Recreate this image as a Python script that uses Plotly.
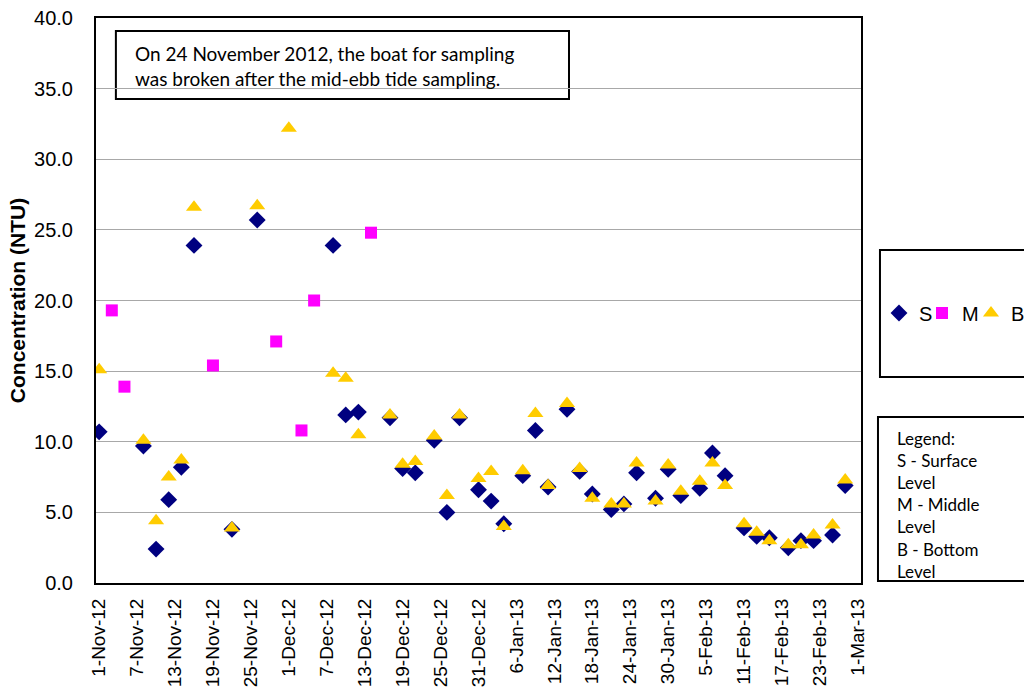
import plotly.graph_objects as go

# Surface level
s_dates = ["2012-11-01", "2012-11-08", "2012-11-10", "2012-11-12", "2012-11-14", "2012-11-16",
           "2012-11-22", "2012-11-26", "2012-12-08", "2012-12-10", "2012-12-12", "2012-12-17",
           "2012-12-19", "2012-12-21", "2012-12-24", "2012-12-26", "2012-12-28", "2012-12-31",
           "2013-01-02", "2013-01-04", "2013-01-07", "2013-01-09", "2013-01-11", "2013-01-14",
           "2013-01-16", "2013-01-18", "2013-01-21", "2013-01-23", "2013-01-25", "2013-01-28",
           "2013-01-30", "2013-02-01", "2013-02-04", "2013-02-06", "2013-02-08", "2013-02-11",
           "2013-02-13", "2013-02-15", "2013-02-18", "2013-02-20", "2013-02-22", "2013-02-25",
           "2013-02-27"]
s_vals = [10.7, 9.7, 2.4, 5.9, 8.2, 23.9,
          3.8, 25.7, 23.9, 11.9, 12.1, 11.7,
          8.1, 7.8, 10.1, 5.0, 11.7, 6.6,
          5.8, 4.2, 7.6, 10.8, 6.8, 12.3,
          7.9, 6.3, 5.2, 5.6, 7.8, 6.0,
          8.05, 6.2, 6.7, 9.2, 7.6, 3.9,
          3.3, 3.2, 2.5, 3.0, 3.0, 3.4,
          6.9]

# Middle level
m_dates = ["2012-11-03", "2012-11-05", "2012-11-19", "2012-11-29", "2012-12-03", "2012-12-05",
           "2012-12-14"]
m_vals = [19.3, 13.9, 15.4, 17.1, 10.8, 20.0, 24.8]

# Bottom level
b_dates = ["2012-11-01", "2012-11-08", "2012-11-10", "2012-11-12", "2012-11-14", "2012-11-16",
           "2012-11-22", "2012-11-26", "2012-12-01", "2012-12-08", "2012-12-10", "2012-12-12",
           "2012-12-17", "2012-12-19", "2012-12-21", "2012-12-24", "2012-12-26", "2012-12-28",
           "2012-12-31", "2013-01-02", "2013-01-04", "2013-01-07", "2013-01-09", "2013-01-11",
           "2013-01-14", "2013-01-16", "2013-01-18", "2013-01-21", "2013-01-23", "2013-01-25",
           "2013-01-28", "2013-01-30", "2013-02-01", "2013-02-04", "2013-02-06", "2013-02-08",
           "2013-02-11", "2013-02-13", "2013-02-15", "2013-02-18", "2013-02-20", "2013-02-22",
           "2013-02-25", "2013-02-27"]
b_vals = [15.1, 10.1, 4.4, 7.5, 8.7, 26.6,
          3.9, 26.7, 32.2, 14.85, 14.5, 10.5,
          11.9, 8.4, 8.6, 10.4, 6.2, 11.9,
          7.4, 7.9, 4.0, 7.95, 12.0, 6.9,
          12.7, 8.1, 6.0, 5.6, 5.6, 8.5,
          5.8, 8.35, 6.5, 7.2, 8.5, 6.9,
          4.2, 3.6, 3.0, 2.7, 2.7, 3.4,
          4.1, 7.3]

tick_dates = ["2012-11-01", "2012-11-07", "2012-11-13", "2012-11-19", "2012-11-25", "2012-12-01",
              "2012-12-07", "2012-12-13", "2012-12-19", "2012-12-25", "2012-12-31", "2013-01-06",
              "2013-01-12", "2013-01-18", "2013-01-24", "2013-01-30", "2013-02-05", "2013-02-11",
              "2013-02-17", "2013-02-23", "2013-03-01"]
tick_labels = ["1-Nov-12", "7-Nov-12", "13-Nov-12", "19-Nov-12", "25-Nov-12", "1-Dec-12",
               "7-Dec-12", "13-Dec-12", "19-Dec-12", "25-Dec-12", "31-Dec-12", "6-Jan-13",
               "12-Jan-13", "18-Jan-13", "24-Jan-13", "30-Jan-13", "5-Feb-13", "11-Feb-13",
               "17-Feb-13", "23-Feb-13", "1-Mar-13"]

ARIAL = "Arial, Liberation Sans, sans-serif"
CALIBRI = "Lato, Carlito, Calibri, sans-serif"

fig = go.Figure()
fig.add_trace(go.Scatter(x=s_dates, y=s_vals, mode="markers", name="S", legend="legend",
                         marker=dict(symbol="diamond", size=13, color="#000080")))
fig.add_trace(go.Scatter(x=m_dates, y=m_vals, mode="markers", name="M", legend="legend2",
                         marker=dict(symbol="square", size=12, color="#FF00FF")))
fig.add_trace(go.Scatter(x=b_dates, y=b_vals, mode="markers", name="B", legend="legend3",
                         marker=dict(symbol="triangle-up", size=14, color="#FFCC00")))

fig.update_xaxes(
    range=["2012-10-31 12:00", "2013-03-01 12:00"],
    tickvals=tick_dates, ticktext=tick_labels, tickangle=-90,
    tickfont=dict(family=ARIAL, size=19, color="black"),
    showgrid=False, showline=True, mirror=True, linecolor="black", linewidth=2,
    ticks="", ticklabelstandoff=6,
)
fig.update_yaxes(
    range=[0, 40], dtick=5, tickformat=".1f",
    tickfont=dict(family=ARIAL, size=20, color="black"),
    showgrid=True, gridcolor="#A8A8A8", gridwidth=1,
    showline=True, mirror=True, linecolor="black", linewidth=2,
    ticks="", ticklabelstandoff=17,
    title=dict(text="<b>Concentration (NTU)</b>", font=dict(family=ARIAL, size=21, color="black"),
               standoff=3),
    zeroline=False,
)

# note box
fig.add_shape(type="rect", xref="paper", yref="paper", x0=0.026, x1=0.6183, y0=0.8566, y1=0.977,
              line=dict(color="black", width=2), fillcolor="white", layer="below")
fig.add_annotation(xref="paper", yref="paper", x=0.0484, y=0.915, xanchor="left", yanchor="middle",
                   align="left", showarrow=False,
                   text="On 24 November 2012, the boat for sampling<br>was broken after the mid-ebb tide sampling.",
                   font=dict(family=CALIBRI, size=19, color="black"))

# legend box
fig.add_shape(type="rect", xref="paper", yref="paper", x0=1.0248, x1=1.26, y0=0.3646, y1=0.5894,
              line=dict(color="black", width=2), fillcolor="white")
# key box
fig.add_shape(type="rect", xref="paper", yref="paper", x0=1.0222, x1=1.26, y0=0.0035, y1=0.2938,
              line=dict(color="black", width=2), fillcolor="white")
fig.add_annotation(xref="paper", yref="paper", x=1.0444, y=0.1375, xanchor="left", yanchor="middle",
                   align="left", showarrow=False,
                   text="Legend:<br>S - Surface<br>Level<br>M - Middle<br>Level<br>B - Bottom<br>Level",
                   font=dict(family=CALIBRI, size=17, color="black"))

legend_style = dict(y=(583 - 313) / 565, xanchor="left", yanchor="middle",
                    font=dict(family=ARIAL, size=20, color="black"), bgcolor="rgba(0,0,0,0)")

fig.update_layout(
    width=1024, height=693,
    margin=dict(l=96, r=163, t=18, b=110, autoexpand=False),
    paper_bgcolor="white", plot_bgcolor="white",
    showlegend=True,
    legend=dict(x=(879 - 96) / 765, **legend_style),
    legend2=dict(x=(922 - 96) / 765, **legend_style),
    legend3=dict(x=(971 - 96) / 765, **legend_style),
)

fig.write_html("out.html", config={"displayModeBar": False},
               post_script="document.body.style.margin='0';")
